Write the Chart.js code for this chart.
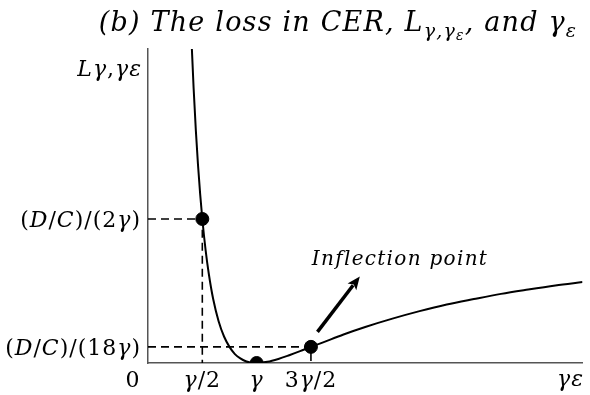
<!DOCTYPE html>
<html lang="en">
<head>
  <meta charset="UTF-8" />
  <title>Loss in CER vs estimated risk aversion</title>
  <script src="https://cdn.jsdelivr.net/npm/chart.js@4.4.1/dist/chart.umd.min.js"></script>
  <style>
    *{margin:0;padding:0;box-sizing:border-box}
    body{background:#fff;width:590px;height:395px;overflow:hidden}
    canvas{display:block}
  </style>
</head>
<body>
  <canvas id="lossChart" width="590" height="395"></canvas>
  <script>
    // gamma_eps in units of gamma, loss in units of D/C (gamma = 1)
    const curveX = [0.40, 0.42, 0.44, 0.46, 0.48, 0.50, 0.53, 0.56, 0.60, 0.65, 0.70, 0.75, 0.80, 0.85, 0.90, 0.95,
                    1.00, 1.10, 1.20, 1.30, 1.40, 1.50, 1.60, 1.80, 2.00, 2.25, 2.50, 2.75, 3.00, 3.25, 3.50, 3.75, 4.00];
    const curveL = [1.125, 0.954, 0.810, 0.689, 0.587, 0.500, 0.393, 0.309, 0.222, 0.145, 0.092, 0.056, 0.031, 0.016, 0.006, 0.001,
                    0.000, 0.004, 0.014, 0.027, 0.041, 0.056, 0.070, 0.099, 0.125, 0.154, 0.180, 0.203, 0.222, 0.240, 0.255, 0.269, 0.281];

    // marked points: gamma/2, gamma, 3gamma/2
    const markX = [0.5, 1.0, 1.5];
    const markL = [0.5, 0.0, 0.056];

    const xTicks = [0, 0.5, 1, 1.5];
    const xTickLabels = ['0', 'γ/2', 'γ', '3γ/2'];
    const yTicks = [0.5, 0.056];
    const yTickLabels = ['(D/C)/(2γ)', '(D/C)/(18γ)'];

    const xMax = 4, yMax = 1.09;
    const arrowFrom = [1.56, 0.108];
    const arrowTo = [1.95, 0.300];
    const noteAt = [2.32, 0.365];
    const noteText = 'Inflection point';

    const SERIF = '"DejaVu Serif", "Liberation Serif", serif';

    const pts = (xs, ys) => xs.map((x, i) => ({ x, y: ys[i] }));
    // dashed guide: from the y axis across to the point, then down to the x axis
    const guide = i => [{ x: 0, y: markL[i] }, { x: markX[i], y: markL[i] }, { x: markX[i], y: 0 }];

    // text helpers: letters in italic, the rest upright (math style)
    function mathParts(str, size) {
      const out = [];
      for (const ch of str) {
        const it = /[A-Za-zα-ω]/.test(ch);
        const last = out[out.length - 1];
        if (last && last.i === it) last.t += ch;
        else out.push({ t: ch, s: size, i: it, dy: 0 });
      }
      return out;
    }
    function drawRich(ctx, parts, x, y, align, spacing) {
      ctx.save();
      ctx.letterSpacing = (spacing || 0) + 'px';
      ctx.textBaseline = 'alphabetic';
      ctx.textAlign = 'left';
      let w = 0;
      parts.forEach(p => {
        ctx.font = (p.i ? 'italic ' : '') + p.s + 'px ' + SERIF;
        p.w = ctx.measureText(p.t).width;
        w += p.w;
      });
      let cx = align === 'right' ? x - w : align === 'center' ? x - w / 2 : x;
      parts.forEach(p => {
        ctx.font = (p.i ? 'italic ' : '') + p.s + 'px ' + SERIF;
        ctx.fillStyle = '#000';
        ctx.fillText(p.t, cx, y + (p.dy || 0));
        cx += p.w;
      });
      ctx.restore();
    }

    const textPlugin = {
      id: 'textPlugin',
      afterDraw(chart) {
        const { ctx, scales: { x, y } } = chart;

        // title with subscripts
        drawRich(ctx, [
          { t: '(b) The loss in CER, L', s: 27, i: true },
          { t: 'γ,γ', s: 19, i: true, dy: 6 },
          { t: 'ε', s: 14, i: true, dy: 9 },
          { t: ', and γ', s: 27, i: true },
          { t: 'ε', s: 19, i: true, dy: 6 }
        ], 338, 31, 'center', 1.2);

        // axis names
        drawRich(ctx, mathParts('Lγ,γε', 22), x.left - 6, 76, 'right', 1);
        drawRich(ctx, mathParts('γε', 22), x.right - 12, 386, 'center', 1);

        // tick labels
        xTicks.forEach((v, i) => {
          const px = x.getPixelForValue(v) - (v === 0 ? 15 : 0);
          drawRich(ctx, mathParts(xTickLabels[i], 22), px, 387, 'center', 1);
        });
        yTicks.forEach((v, i) => {
          drawRich(ctx, mathParts(yTickLabels[i], 22), x.left - 7, y.getPixelForValue(v) + 8, 'right', 1);
        });

        // annotation arrow
        const x0 = x.getPixelForValue(arrowFrom[0]), y0 = y.getPixelForValue(arrowFrom[1]);
        const x1 = x.getPixelForValue(arrowTo[0]), y1 = y.getPixelForValue(arrowTo[1]);
        const ang = Math.atan2(y1 - y0, x1 - x0);
        const head = 13, hw = 5.5;
        const bx = x1 - head * Math.cos(ang), by = y1 - head * Math.sin(ang);
        ctx.save();
        ctx.strokeStyle = '#000';
        ctx.fillStyle = '#000';
        ctx.lineWidth = 3.5;
        ctx.beginPath();
        ctx.moveTo(x0, y0);
        ctx.lineTo(bx + 2 * Math.cos(ang), by + 2 * Math.sin(ang));
        ctx.stroke();
        ctx.beginPath();
        ctx.moveTo(x1, y1);
        ctx.lineTo(bx + hw * Math.sin(ang), by - hw * Math.cos(ang));
        ctx.lineTo(bx + 3 * Math.cos(ang), by + 3 * Math.sin(ang));
        ctx.lineTo(bx - hw * Math.sin(ang), by + hw * Math.cos(ang));
        ctx.closePath();
        ctx.fill();
        ctx.restore();

        drawRich(ctx, mathParts(noteText, 20), x.getPixelForValue(noteAt[0]), y.getPixelForValue(noteAt[1]) + 7, 'center', 1.3);
      }
    };

    const hiddenFit = s => { if (s.isHorizontal()) s.height = 0; else s.width = 0; };

    new Chart(document.getElementById('lossChart').getContext('2d'), {
      type: 'scatter',
      data: {
        datasets: [
          { data: pts(markX, markL), pointRadius: 6.5, pointHoverRadius: 6.5,
            backgroundColor: '#000', borderColor: '#000', showLine: false, order: 0 },
          { data: pts(curveX, curveL), showLine: true, pointRadius: 0, borderColor: '#000',
            borderWidth: 2, cubicInterpolationMode: 'monotone', order: 1 },
          { data: guide(0), showLine: true, pointRadius: 0, borderColor: '#000',
            borderWidth: 1.6, borderDash: [8, 5], order: 2 },
          { data: guide(2), showLine: true, pointRadius: 0, borderColor: '#000',
            borderWidth: 1.6, borderDash: [8, 5], order: 2 }
        ]
      },
      options: {
        responsive: false,
        animation: false,
        devicePixelRatio: 1,
        layout: { padding: { left: 148, top: 49, right: 2, bottom: 32 } },
        plugins: { legend: { display: false }, tooltip: { enabled: false } },
        scales: {
          x: {
            type: 'linear', min: 0, max: xMax,
            grid: { display: false, drawTicks: false },
            ticks: { display: false },
            border: { display: true, color: '#555', width: 1.5 },
            afterFit: hiddenFit
          },
          y: {
            type: 'linear', min: 0, max: yMax,
            grid: { display: false, drawTicks: false },
            ticks: { display: false },
            border: { display: true, color: '#555', width: 1.5 },
            afterFit: hiddenFit
          }
        }
      },
      plugins: [textPlugin]
    });
  </script>
</body>
</html>
